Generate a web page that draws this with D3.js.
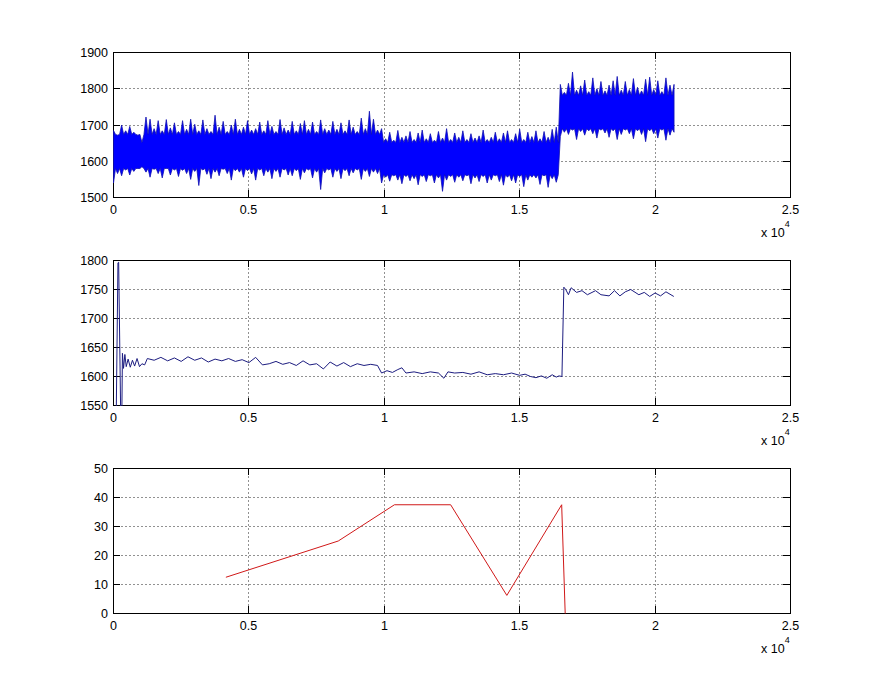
<!DOCTYPE html>
<html><head><meta charset="utf-8">
<script src="https://cdn.jsdelivr.net/npm/d3@7"></script>
<style>
html,body{margin:0;padding:0;background:#fff;}
svg{display:block;font-family:"Liberation Sans",Arial,Helvetica,sans-serif;}
</style></head><body>
<svg id="chart" width="873" height="694"></svg>
<script>
// ---------------- data ----------------
const xTicks = [0, 5000, 10000, 15000, 20000, 25000];
const xTickLabels = ["0", "0.5", "1", "1.5", "2", "2.5"];
const rawYTicks = [1500, 1600, 1700, 1800, 1900];
const avgYTicks = [1550, 1600, 1650, 1700, 1750, 1800];
const estYTicks = [0, 10, 20, 30, 40, 50];

// panel 1: raw signal envelope (max / min per 150-sample bin)
const rawStep = 150;
const rawHi = [
  1685,1672,1700,1684,1696,1680,1672,1652,1722,1716,1690,
  1712,1684,1715,1692,1706,1682,1712,1688,1716,1702,1684,
  1714,1690,1682,1727,1694,1710,1682,1700,1716,1688,1694,
  1712,1686,1690,1708,1684,1712,1696,1682,1715,1692,1686,
  1710,1684,1704,1712,1688,1708,1682,1714,1690,1686,1710,
  1688,1706,1684,1714,1694,1682,1719,1690,1738,1716,1686,
  1690,1662,1680,1658,1685,1666,1670,1682,1660,1678,1686,
  1662,1676,1658,1682,1664,1690,1660,1678,1666,1684,1660,
  1676,1664,1670,1686,1660,1666,1680,1662,1678,1684,1660,
  1676,1688,1660,1680,1668,1684,1662,1682,1666,1688,1694,
  1812,1790,1815,1846,1796,1808,1824,1792,1830,1800,
  1820,1794,1810,1822,1834,1796,1820,1798,1828,1804,
  1794,1826,1832,1798,1822,1792,1830,1810,1812
];
const rawLo = [
  1540,1566,1560,1576,1562,1572,1580,1585,1570,1556,1578,
  1566,1554,1580,1562,1576,1558,1575,1566,1550,1572,1533,
  1576,1564,1552,1570,1560,1578,1566,1548,1574,1570,1556,
  1574,1565,1548,1576,1560,1570,1552,1572,1556,1576,1562,
  1560,1574,1550,1568,1576,1554,1570,1522,1568,1576,1556,
  1572,1552,1574,1560,1568,1576,1550,1572,1558,1570,1566,
  1540,1556,1545,1560,1548,1538,1558,1546,1552,1535,1558,
  1544,1560,1540,1554,1517,1548,1558,1542,1556,1546,1560,
  1538,1554,1544,1558,1540,1548,1560,1544,1534,1556,1546,
  1540,1558,1530,1548,1556,1554,1536,1560,1528,1552,1542,
  1668,1680,1674,1686,1660,1682,1672,1684,1676,1664,
  1686,1678,1666,1684,1660,1674,1686,1676,1662,1684,
  1674,1654,1684,1676,1664,1686,1658,1672,1680
];
const rawSegStart = [0, 9900, 16500];
const rawCoreHi = [1674, 1652, 1782];
const rawCoreLo = [1580, 1563, 1690];

// panel 2: running average
const avgX = [80,165,190,290,330,370,420,470,540,620,700,780,870,960,1050,1150,
  1250,1500,1750,2000,2250,2500,2750,3000,3250,3500,3750,4000,4250,4500,4750,5000,5250,5500,5750,6000,
  6250,6500,6750,7000,7250,7500,7750,8000,8250,8500,8750,9000,9250,9500,9750,
  9900,10100,10300,10500,10650,10800,11100,11400,11700,12000,
  12200,12350,12600,12900,13200,13500,13800,14100,14400,14700,
  15000,15200,15400,15600,15800,16000,16200,16350,16450,16560,
  16630,16700,16800,16900,17100,17300,17500,17800,18000,18300,
  18500,18700,18900,19100,19400,19600,19800,20000,20200,20400,20690];
const avgY = [1450,1796,1797,1450,1640,1614,1638,1617,1630,1616,1628,1618,1631,1617,1622,1620,
  1631,1628,1633,1627,1632,1626,1634,1628,1632,1625,1630,1627,1631,1626,1629,1624,1633,1620,1622,1626,
  1621,1624,1619,1627,1620,1622,1613,1625,1618,1624,1617,1622,1619,1621,1619,
  1606,1610,1607,1612,1615,1606,1608,1605,1608,1606,
  1597,1608,1606,1607,1604,1608,1603,1605,1603,1606,
  1602,1604,1600,1598,1601,1597,1603,1599,1601,1600,
  1754,1750,1741,1753,1745,1748,1741,1748,1741,1739,
  1748,1739,1746,1750,1741,1745,1738,1744,1739,1746,1738];

// panel 3: estimate
const estX = [4150, 8300, 10375, 12450, 14525, 16550, 16680];
const estY = [12.5, 25, 37.5, 37.5, 6.25, 37.5, 0];

// ---------------- layout ----------------
const svg = d3.select("#chart");
const L = 113, W = 677, H = 145;
const tops = [52, 260, 468];

function panel(idx, yDomain, yTicks) {
  const top = tops[idx];
  const g = svg.append("g");
  const x = d3.scaleLinear().domain([0, 25000]).range([L + 0.5, L + W + 0.5]);
  const y = d3.scaleLinear().domain(yDomain).range([top + H + 0.5, top + 0.5]);
  const xr = d3.scaleLinear().domain([0, 25000]).rangeRound([L, L + W]);
  const yr = d3.scaleLinear().domain(yDomain).rangeRound([top + H, top]);

  // grid (dotted)
  const grid = g.append("g").attr("stroke", "#222").attr("stroke-width", 1)
    .attr("stroke-dasharray", "1,3").attr("fill", "none");
  xTicks.slice(1, -1).forEach(t => {
    grid.append("line").attr("x1", xr(t) + 0.5).attr("x2", xr(t) + 0.5)
      .attr("y1", top + 0.5).attr("y2", top + H + 0.5);
  });
  yTicks.slice(1, -1).forEach(t => {
    grid.append("line").attr("y1", yr(t) + 0.5).attr("y2", yr(t) + 0.5)
      .attr("x1", L + 0.5).attr("x2", L + W + 0.5);
  });

  // axes with inward ticks
  const fmtX = d => xTickLabels[xTicks.indexOf(d)];
  const ax = [
    g.append("g").attr("transform", `translate(0,${top + H})`)
      .call(d3.axisBottom(xr).tickValues(xTicks).tickFormat(fmtX).tickSize(-7).tickPadding(8)),
    g.append("g").attr("transform", `translate(0,${top})`)
      .call(d3.axisTop(xr).tickValues(xTicks).tickFormat("").tickSize(-7)),
    g.append("g").attr("transform", `translate(${L},0)`)
      .call(d3.axisLeft(yr).tickValues(yTicks).tickFormat(d3.format("d")).tickSize(-7).tickPadding(5)),
    g.append("g").attr("transform", `translate(${L + W},0)`)
      .call(d3.axisRight(yr).tickValues(yTicks).tickFormat("").tickSize(-7))
  ];
  ax.forEach(a => {
    a.select(".domain").remove();
    a.selectAll("text").attr("font-size", "12.5px").attr("fill", "#000")
      .attr("font-family", '"Liberation Sans",Arial,Helvetica,sans-serif');
    a.selectAll("line").attr("stroke", "#000");
  });

  // box
  g.append("rect").attr("x", L + 0.5).attr("y", top + 0.5).attr("width", W).attr("height", H)
    .attr("fill", "none").attr("stroke", "#000").attr("stroke-width", 1);

  // exponent label
  const t = g.append("text").attr("x", 761).attr("y", top + H + 39.5)
    .attr("font-size", "12.5px").attr("fill", "#000").text("x 10");
  t.append("tspan").attr("dy", -9.5).attr("font-size", "9px").text("4");

  // clip
  svg.append("clipPath").attr("id", "clip" + idx).append("rect")
    .attr("x", L).attr("y", top).attr("width", W + 1).attr("height", H + 1);
  const data = g.append("g").attr("clip-path", `url(#clip${idx})`);
  return { x, y, data };
}

// panel 1
{
  const p = panel(0, [1500, 1900], rawYTicks);
  const segOf = v => (v >= rawSegStart[2] ? 2 : v >= rawSegStart[1] ? 1 : 0);
  const n = rawHi.length;
  const pts = [];
  for (let i = 0; i < n; i++) {
    const xi = i * rawStep;
    pts.push([xi, rawHi[i]]);
    if (i < n - 1) { const m = xi + rawStep / 2; pts.push([m, rawCoreHi[segOf(m)]]); }
  }
  for (let i = n - 1; i >= 0; i--) {
    const xi = i * rawStep;
    pts.push([xi, rawLo[i]]);
    if (i > 0) { const m = xi - rawStep / 2; pts.push([m, rawCoreLo[segOf(m)]]); }
  }
  const line = d3.line().x(d => p.x(d[0])).y(d => p.y(d[1]));
  p.data.append("path").attr("d", line(pts) + "Z")
    .attr("fill", "#0000ff").attr("stroke", "#1010b0").attr("stroke-width", 0.8)
    .attr("stroke-linejoin", "miter");
}

// panel 2
{
  const p = panel(1, [1550, 1800], avgYTicks);
  const line = d3.line().x((d, i) => p.x(avgX[i])).y(d => p.y(d));
  p.data.append("path").attr("d", line(avgY))
    .attr("fill", "none").attr("stroke", "#1c1c80").attr("stroke-width", 1);
}

// panel 3
{
  const p = panel(2, [0, 50], estYTicks);
  const line = d3.line().x((d, i) => p.x(estX[i])).y(d => p.y(d));
  p.data.append("path").attr("d", line(estY))
    .attr("fill", "none").attr("stroke", "#d01818").attr("stroke-width", 1);
}
</script>
</body></html>
